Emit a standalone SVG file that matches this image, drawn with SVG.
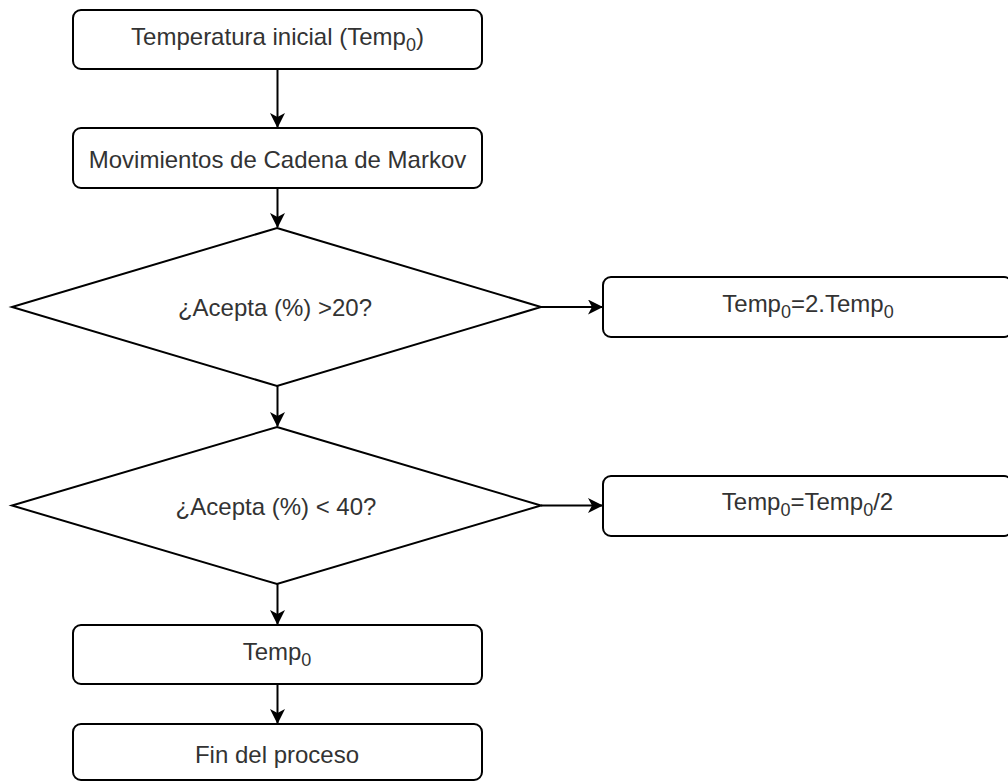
<svg xmlns="http://www.w3.org/2000/svg" width="1008" height="782" viewBox="0 0 1008 782">
<style>
.box{fill:#fff;stroke:#000;stroke-width:2}
.t{font-family:"Liberation Sans",Arial,sans-serif;font-size:24px;fill:#333;text-anchor:middle}
.sub{font-size:18px}
.c{fill:none;stroke:#000;stroke-width:2}
</style>
<defs>
<marker id="arr" viewBox="0 0 15 15" refX="14" refY="7.5" markerWidth="15" markerHeight="15" markerUnits="userSpaceOnUse" orient="auto">
<path d="M0,0 L15,7.5 L0,15 L4,7.5 z" fill="#000"/>
</marker>
</defs>
<rect width="1008" height="782" fill="#fff"/>
<g id="connectors">
<line class="c" x1="277.5" y1="69" x2="277.5" y2="127" marker-end="url(#arr)"/>
<line class="c" x1="277.5" y1="188" x2="277.5" y2="227" marker-end="url(#arr)"/>
<line class="c" x1="277.5" y1="386" x2="277.5" y2="426" marker-end="url(#arr)"/>
<line class="c" x1="277.5" y1="584" x2="277.5" y2="624" marker-end="url(#arr)"/>
<line class="c" x1="277.5" y1="684" x2="277.5" y2="723" marker-end="url(#arr)"/>
<line class="c" x1="541" y1="307" x2="602" y2="307" marker-end="url(#arr)"/>
<line class="c" x1="541" y1="505.5" x2="602" y2="505.5" marker-end="url(#arr)"/>
</g>
<g id="n1">
<rect class="box" x="73" y="10" width="409" height="59" rx="8"/>
<text class="t" x="277.5" y="45">Temperatura inicial (Temp<tspan class="sub" dy="6">0</tspan><tspan dy="-6">)</tspan></text>
</g>
<g id="n2">
<rect class="box" x="73" y="128" width="409" height="60" rx="8"/>
<text class="t" x="277.5" y="168">Movimientos de Cadena de Markov</text>
</g>
<g id="d1">
<polygon class="box" points="277,228 541,307 277,386 12,307"/>
<text class="t" x="275" y="316">¿Acepta (%) &gt;20?</text>
</g>
<g id="r2">
<rect class="box" x="603" y="277" width="409" height="60" rx="8"/>
<text class="t" x="808" y="311.5">Temp<tspan class="sub" dy="6">0</tspan><tspan dy="-6">=2.Temp</tspan><tspan class="sub" dy="6">0</tspan></text>
</g>
<g id="d2">
<polygon class="box" points="277,427 541,505.5 277,584 12,505.5"/>
<text class="t" x="276" y="515">¿Acepta (%) &lt; 40?</text>
</g>
<g id="r3">
<rect class="box" x="603" y="476" width="409" height="60" rx="8"/>
<text class="t" x="807.5" y="510">Temp<tspan class="sub" dy="6">0</tspan><tspan dy="-6">=Temp</tspan><tspan class="sub" dy="6">0</tspan><tspan dy="-6">/2</tspan></text>
</g>
<g id="n5">
<rect class="box" x="73" y="625" width="409" height="59" rx="8"/>
<text class="t" x="277" y="660">Temp<tspan class="sub" dy="6">0</tspan></text>
</g>
<g id="n6">
<rect class="box" x="73" y="724" width="409" height="56" rx="8"/>
<text class="t" x="277" y="763">Fin del proceso</text>
</g>
</svg>
